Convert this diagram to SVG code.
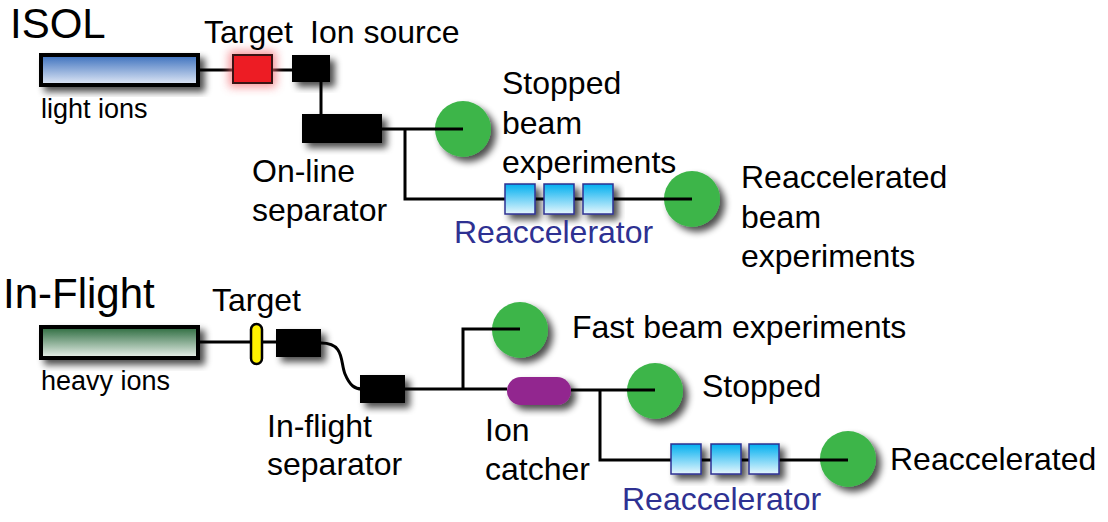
<svg xmlns="http://www.w3.org/2000/svg" width="1108" height="522" viewBox="0 0 1108 522">
<defs>
<style>
text{font-family:"Liberation Sans",Arial,sans-serif;fill:#000}
.lbl{font-size:32px}
.sm{font-size:27px}
.ttl{font-size:42px}
.blue{fill:#2e3192}
.ln{stroke:#000;stroke-width:3;fill:none}
.blk{fill:#000}
.grn{fill:#3cb54a}
.box{fill:url(#gCyan);stroke:#2e3192;stroke-width:1.5}
</style>
<linearGradient id="gBlue" x1="0" y1="0" x2="0" y2="1"><stop offset="0" stop-color="#3a6fbd"/><stop offset="1" stop-color="#e4ebf7"/></linearGradient>
<linearGradient id="gGreen" x1="0" y1="0" x2="0" y2="1"><stop offset="0" stop-color="#2a6a3d"/><stop offset="1" stop-color="#eef4ef"/></linearGradient>
<linearGradient id="gCyan" x1="0" y1="0" x2="0" y2="1"><stop offset="0" stop-color="#00aeef"/><stop offset="1" stop-color="#e6f7fd"/></linearGradient>
<filter id="sh" x="-30%" y="-30%" width="170%" height="170%">
<feGaussianBlur in="SourceAlpha" stdDeviation="3.5"/>
<feOffset dx="5" dy="5" result="b"/>
<feComponentTransfer><feFuncA type="linear" slope="0.7"/></feComponentTransfer>
<feMerge><feMergeNode/><feMergeNode in="SourceGraphic"/></feMerge>
</filter>
<filter id="glow" x="-80%" y="-80%" width="260%" height="260%">
<feGaussianBlur in="SourceGraphic" stdDeviation="5"/>
</filter>
</defs>
<rect width="1108" height="522" fill="#fff"/>

<g id="connectors">
<path class="ln" d="M199 70 H292"/>
<path class="ln" d="M321 82 V115"/>
<path class="ln" d="M382 129 H463"/>
<path class="ln" d="M405 129 V199 H692"/>
<path class="ln" d="M199 342 H276"/>
<path class="ln" d="M321 343 C345 343 340 362 345 374 C350 386 355 389 362 389"/>
<path class="ln" d="M405 389 H507"/>
<path class="ln" d="M463 389 V329 H520"/>
<path class="ln" d="M571 390 H655"/>
<path class="ln" d="M600 390 V460 H848"/>
</g>

<g id="isol-title"><text class="ttl" x="10" y="38">ISOL</text></g>

<g id="light-ions">
<rect x="41" y="55" width="157" height="30" fill="url(#gBlue)" stroke="#000" stroke-width="4" filter="url(#sh)"/>
<text class="sm" x="41" y="118">light ions</text>
</g>

<g id="target-isol">
<rect x="229" y="51" width="47" height="36" fill="#f26d73" filter="url(#glow)" opacity="0.75"/>
<rect x="233" y="55" width="39" height="28" fill="#ed1c24" stroke="#3a1414" stroke-width="2"/>
<text class="lbl" x="204" y="43">Target</text>
</g>

<g id="ion-source">
<rect x="292" y="55" width="38" height="27" class="blk" filter="url(#sh)"/>
<text class="lbl" x="310" y="43">Ion source</text>
</g>

<g id="online-separator">
<rect x="302" y="114" width="80" height="29" class="blk" filter="url(#sh)"/>
<text class="lbl" x="252" y="182">On-line</text>
<text class="lbl" x="252" y="221">separator</text>
</g>

<g id="stopped-isol">
<circle cx="463" cy="129" r="28" class="grn" filter="url(#sh)"/>
<path class="ln" d="M435 129 H463"/>
<text class="lbl" x="502" y="94">Stopped</text>
<text class="lbl" x="502" y="134">beam</text>
<text class="lbl" x="502" y="173">experiments</text>
</g>

<g id="reacc-isol">
<rect x="505" y="184" width="30" height="30" class="box" filter="url(#sh)"/>
<rect x="544" y="184" width="30" height="30" class="box" filter="url(#sh)"/>
<rect x="583" y="184" width="30" height="30" class="box" filter="url(#sh)"/>
<text class="lbl blue" x="454" y="243">Reaccelerator</text>
</g>

<g id="reacc-exp-isol">
<circle cx="692" cy="199" r="28" class="grn" filter="url(#sh)"/>
<path class="ln" d="M664 199 H692"/>
<text class="lbl" x="741" y="188">Reaccelerated</text>
<text class="lbl" x="741" y="228">beam</text>
<text class="lbl" x="741" y="267">experiments</text>
</g>

<g id="inflight-title"><text class="ttl" x="3" y="308">In-Flight</text></g>

<g id="heavy-ions">
<rect x="41" y="327" width="157" height="31" fill="url(#gGreen)" stroke="#000" stroke-width="4" filter="url(#sh)"/>
<text class="sm" x="41" y="390">heavy ions</text>
</g>

<g id="target-if">
<rect x="251" y="324" width="11" height="40" rx="5.5" fill="#fff200" stroke="#000" stroke-width="2.5"/>
<text class="lbl" x="212" y="311">Target</text>
</g>

<g id="if-box1">
<rect x="276" y="329" width="45" height="28" class="blk" filter="url(#sh)"/>
</g>

<g id="inflight-separator">
<rect x="360" y="375" width="45" height="28" class="blk" filter="url(#sh)"/>
<text class="lbl" x="267" y="437">In-flight</text>
<text class="lbl" x="267" y="475">separator</text>
</g>

<g id="fast-beam">
<circle cx="520" cy="330" r="28" class="grn" filter="url(#sh)"/>
<path class="ln" d="M492 329 H520"/>
<text class="lbl" x="572" y="338">Fast beam experiments</text>
</g>

<g id="ion-catcher">
<rect x="507" y="377" width="64" height="28" rx="14" fill="#92278f" filter="url(#sh)"/>
<text class="lbl" x="485" y="441">Ion</text>
<text class="lbl" x="485" y="480">catcher</text>
</g>

<g id="stopped-if">
<circle cx="655" cy="391" r="28" class="grn" filter="url(#sh)"/>
<path class="ln" d="M627 390 H655"/>
<text class="lbl" x="702" y="397">Stopped</text>
</g>

<g id="reacc-if">
<rect x="671" y="444" width="30" height="30" class="box" filter="url(#sh)"/>
<rect x="711" y="444" width="30" height="30" class="box" filter="url(#sh)"/>
<rect x="749" y="444" width="30" height="30" class="box" filter="url(#sh)"/>
<text class="lbl blue" x="622" y="510">Reaccelerator</text>
</g>

<g id="reacc-exp-if">
<circle cx="848" cy="459" r="28" class="grn" filter="url(#sh)"/>
<path class="ln" d="M820 460 H848"/>
<text class="lbl" x="890" y="470">Reaccelerated</text>
</g>
</svg>
